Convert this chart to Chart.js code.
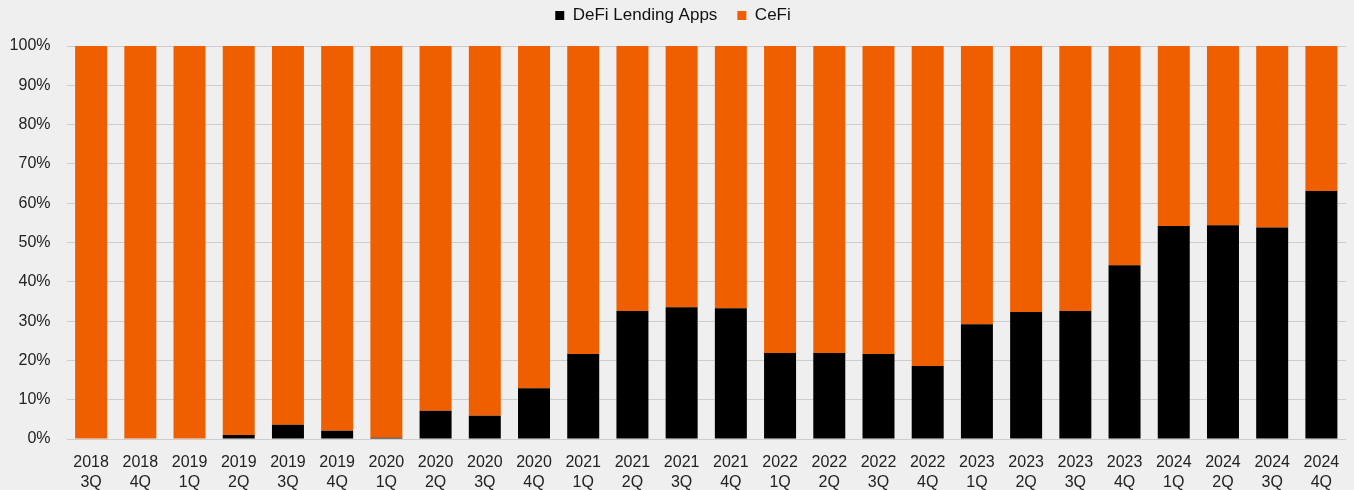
<!DOCTYPE html>
<html>
<head>
<meta charset="utf-8">
<script src="https://cdn.jsdelivr.net/npm/chart.js@4"></script>
<style>
  html, body { margin:0; padding:0; background:#efefef; }
  #wrap { width:1354px; height:490px; }
</style>
</head>
<body>
<div id="wrap"><canvas id="shareChart"></canvas></div>
<script>
// quarters, two-line labels
const quarters = [
  ['2018','3Q'], ['2018','4Q'],
  ['2019','1Q'], ['2019','2Q'], ['2019','3Q'], ['2019','4Q'],
  ['2020','1Q'], ['2020','2Q'], ['2020','3Q'], ['2020','4Q'],
  ['2021','1Q'], ['2021','2Q'], ['2021','3Q'], ['2021','4Q'],
  ['2022','1Q'], ['2022','2Q'], ['2022','3Q'], ['2022','4Q'],
  ['2023','1Q'], ['2023','2Q'], ['2023','3Q'], ['2023','4Q'],
  ['2024','1Q'], ['2024','2Q'], ['2024','3Q'], ['2024','4Q']
];

// share of lending, %
const defiShare = [0, 0, 0, 1.0, 3.6, 2.1, 0.3, 7.2, 5.9, 12.9,
  21.6, 32.6, 33.5, 33.3, 21.9, 21.9, 21.6, 18.6,
  29.2, 32.3, 32.6, 44.2, 54.2, 54.4, 53.8, 63.1];
const cefiShare = [100, 100, 100, 99.0, 96.4, 97.9, 99.7, 92.8, 94.1, 87.1,
  78.4, 67.4, 66.5, 66.7, 78.1, 78.1, 78.4, 81.4,
  70.8, 67.7, 67.4, 55.8, 45.8, 45.6, 46.2, 36.9];

const yTicks = [0, 10, 20, 30, 40, 50, 60, 70, 80, 90, 100];

const FONT = "'Liberation Sans', Arial, sans-serif";
const ORANGE = '#ef5f00';

// legend: fixed 46px band, items drawn higher up than the padding would put them
const legendGap = {
  id: 'legendGap',
  beforeInit(chart) {
    const fit = chart.legend.fit;
    chart.legend.fit = function() {
      fit.bind(chart.legend)();
      this.height = 46;
    };
  },
  afterLayout(chart) {
    chart.legend.top = -13;
  }
};

new Chart(document.getElementById('shareChart'), {
  type: 'bar',
  data: {
    labels: quarters,
    datasets: [
      { label: 'DeFi Lending Apps', data: defiShare, backgroundColor: '#000000' },
      { label: 'CeFi', data: cefiShare, backgroundColor: ORANGE }
    ]
  },
  options: {
    responsive: true,
    maintainAspectRatio: false,
    animation: false,
    layout: { padding: { left: 0, right: 8, top: 0, bottom: 0 } },
    datasets: { bar: { barPercentage: 0.65, categoryPercentage: 1.0, borderWidth: 0 } },
    plugins: {
      legend: {
        position: 'top',
        labels: {
          color: '#111',
          font: { family: FONT, size: 17 },
          boxWidth: 9,
          boxHeight: 9,
          padding: 20
        }
      },
      tooltip: { enabled: false }
    },
    scales: {
      x: {
        stacked: true,
        grid: { display: false },
        border: { display: false },
        ticks: {
          color: '#222',
          font: { family: FONT, size: 16, lineHeight: 1.25 },
          maxRotation: 0,
          autoSkip: false,
          padding: 6
        },
        afterFit: s => { s.height = 51; }
      },
      y: {
        stacked: true,
        min: 0,
        max: 100,
        afterBuildTicks: s => { s.ticks = yTicks.map(v => ({ value: v })); },
        grid: { color: '#cdcdcd', lineWidth: 1, drawTicks: false },
        border: { display: false },
        ticks: {
          color: '#222',
          font: { family: FONT, size: 16 },
          padding: 16,
          callback: v => v + '%'
        },
        afterFit: s => { s.width = 66.5; }
      }
    }
  },
  plugins: [legendGap]
});
</script>
</body>
</html>
